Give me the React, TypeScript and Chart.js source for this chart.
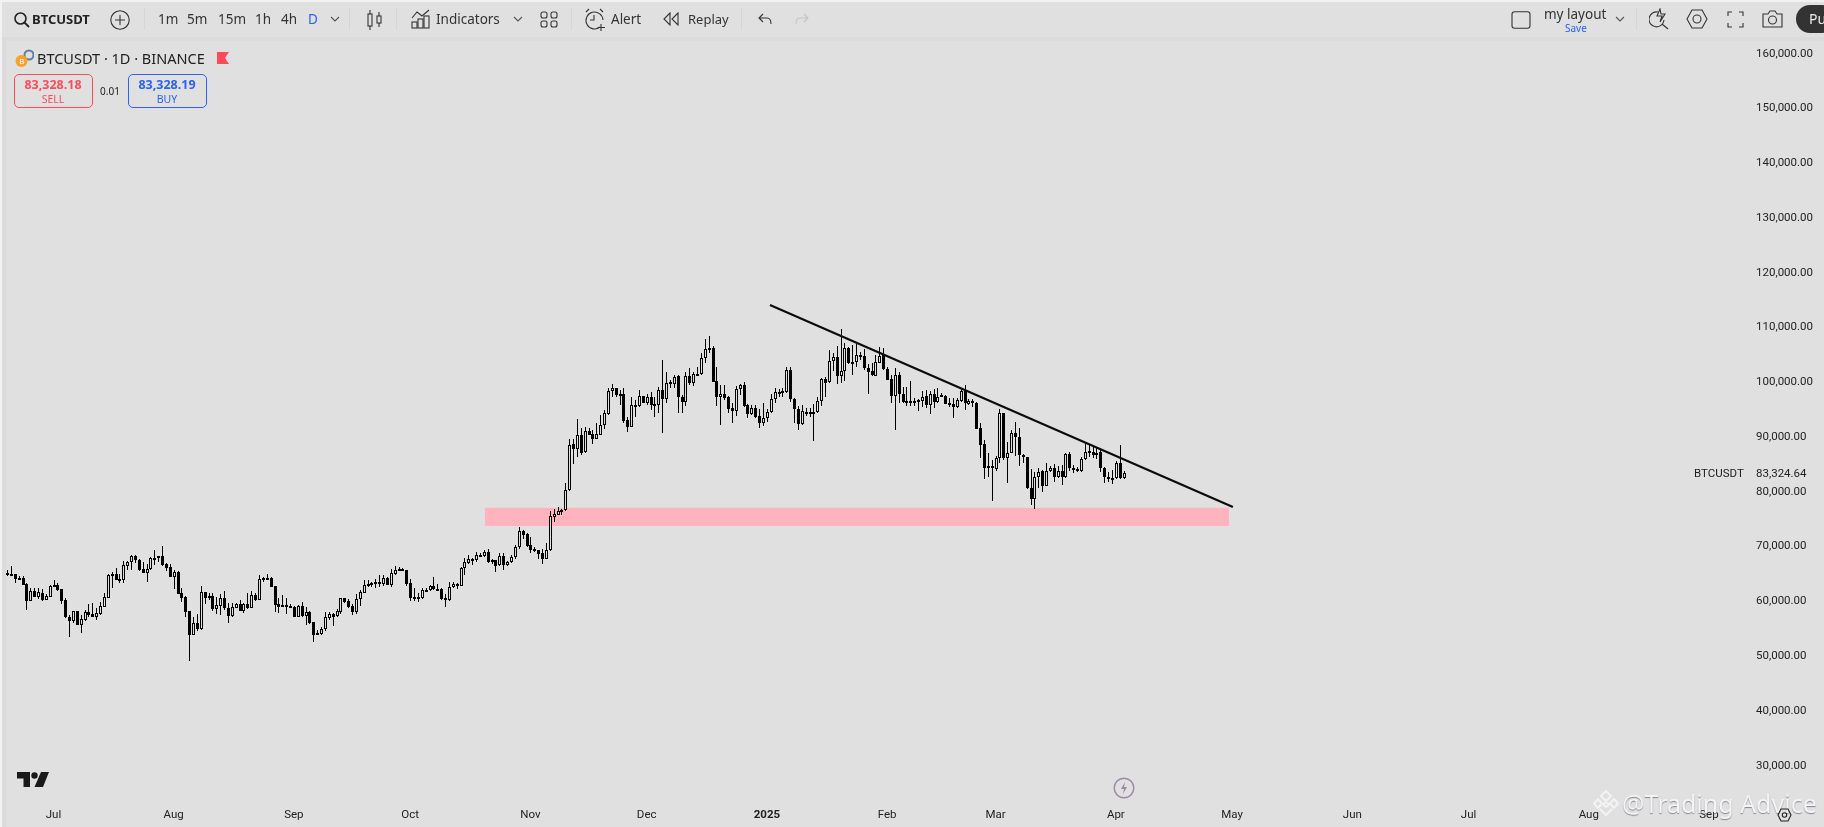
import React, { useEffect, useRef } from "react";
import { Chart, registerables } from "chart.js";

Chart.register(...registerables);

const firstCandleDay = -12; // days relative to 1 Jul 2024

const opens = [
  64990, 64810, 64810, 64140, 64020, 62980, 59940, 61645, 60670, 61340,
  60120, 60670, 62560, 62800, 62070, 60060, 56900, 56290, 57990, 55560,
  56410, 57810, 57445, 57020, 57565, 58845, 60490, 64810, 64810, 63775,
  63715, 66270, 66940, 68100, 67365, 65720, 65050, 65660, 67610, 67670,
  68035, 66635, 66090, 64320, 65175, 61340, 60670, 57990, 53730, 55800,
  54765, 61460, 60730, 60790, 58480, 59030, 60365, 58540, 57200, 58660,
  59270, 58115, 59330, 58660, 60975, 60120, 63960, 64140, 64080, 62560,
  59270, 59090, 59090, 58965, 58785, 57020, 58965, 57200, 57870, 55985,
  53975, 53850, 54705, 56835, 57445, 57080, 57930, 60365, 59820, 58965,
  57930, 60185, 61400, 62980, 63045, 63105, 63105, 62980, 64020, 62860,
  64810, 65600, 65720, 65480, 63105, 60430, 60430, 60430, 61830, 61830,
  62620, 62070, 62070, 60365, 60120, 62375, 62740, 62620, 65845, 66880,
  67245, 67305, 68160, 68160, 68830, 67425, 67305, 66390, 68035, 66515,
  66940, 67855, 69680, 72600, 72050, 70045, 69315, 69130, 68585, 67610,
  69130, 75220, 75645, 76315, 76435,
  80085, 88485, 87695, 90130, 87085, 90860, 90310, 89520, 90250, 92075,
  94085, 98165, 98710, 97675, 97675, 92930, 91710, 95610, 95425, 97250,
  96095, 97070, 95850, 95610, 98405, 96700, 99625, 99565, 100965, 97070,
  96275, 100965, 99745, 101270, 101270, 104190, 105835, 106075, 99990, 97190,
  97615, 97130, 95120, 94635, 98530, 99320, 95610, 94085, 95060, 93600,
  92320, 93355, 94330, 96700, 97920, 98040, 98040, 102060, 96700, 94880,
  92200, 94270, 94270, 94270, 94330, 96340, 100355, 99805, 103765, 104375,
  101025, 101940, 106015, 103460, 103580, 104615, 104615, 102365, 101880, 101025,
  103400, 104740, 102180, 100355, 97375, 101145, 97675, 96215, 96215, 96215,
  96460, 96340, 97250, 95610, 97615, 96280, 97375, 97375, 95975, 95850,
  95365, 96460, 98410, 95850, 96340, 95975, 91410, 88545, 84105, 84530,
  83985, 85930, 94145, 85930, 86965, 90495, 89765, 86600, 86115, 80450,
  78440, 82580, 83680, 80875, 83680, 84105, 82460, 83680, 82460, 86720,
  84105, 83920, 83555, 85870, 87145, 87145, 86600, 87085, 84225, 82460,
  82340, 82275, 85015, 82275,
];

const highs = [
  65540, 66270, 64810, 64445, 64380, 63105, 62190, 62190, 62190, 62010,
  61095, 62800, 63715, 63105, 62070, 60365, 57320, 58115, 58115, 57320,
  58235, 59330, 59455, 58540, 59760, 61280, 64810, 65175, 65845, 64810,
  67185, 67245, 68280, 68280, 67490, 67060, 66635, 67975, 69190, 68100,
  69920, 66760, 66635, 65540, 65420, 62190, 60855, 58115, 56900, 57445,
  62620, 61460, 61280, 61400, 60550, 61095, 61705, 59575, 59575, 59455,
  60060, 59455, 61280, 61765, 61400, 64690, 64320, 64810, 64200, 62680,
  60365, 60975, 60365, 59330, 58965, 59150, 59695, 58845, 58115, 56105,
  54585, 55070, 57870, 57870, 57750, 58420, 60365, 60490, 60185, 59330,
  61160, 61890, 63715, 63715, 63290, 63835, 64630, 64630, 64320, 65660,
  66270, 66025, 65845, 65540, 63835, 62190, 61280, 62190, 62190, 62740,
  64200, 62980, 62190, 61160, 63350, 63290, 63105, 66150, 67670, 68280,
  67670, 68890, 68705, 69190, 69315, 67550, 67365, 68585, 68585, 67245,
  68340, 70105, 73450, 72845, 72235, 71625, 69680, 69190, 69315, 70410,
  76375, 76620, 76985, 76680, 81370,
  89400, 89400, 93110, 91410, 91590, 91470, 91100, 92320, 93840, 94755,
  98710, 99440, 98710, 98405, 98710, 93540, 97070, 96580, 98405, 97310,
  97675, 98100, 97070, 99015, 103885, 101755, 100235, 101145, 101145, 97495,
  101755, 102365, 101755, 102670, 105105, 107720, 108270, 106440, 102545, 99320,
  99320, 97310, 95975, 99140, 99505, 99930, 95850, 95670, 95670, 94880,
  95975, 94880, 97675, 98710, 98530, 98710, 102545, 102545, 96885, 95485,
  95610, 95060, 95060, 95850, 97190, 100540, 100720, 105710, 105105, 106440,
  109485, 106930, 106200, 106625, 106810, 105405, 105835, 103155, 103280, 104800,
  106200, 106015, 102545, 101145, 102365, 101755, 98895, 98895, 100050, 96885,
  96705, 98285, 98410, 98285, 98530, 98715, 97920, 97495, 96885, 96885,
  96885, 98715, 99320, 96765, 96705, 96280, 92445, 89280, 86845, 85625,
  86355, 94880, 94270, 88975, 91105, 92625, 91410, 86720, 86235, 83920,
  83495, 84105, 83800, 85140, 84530, 84895, 84530, 84710, 86845, 87145,
  84710, 84410, 86115, 88790, 88365, 88180, 87940, 87450, 84410, 83495,
  83800, 85380, 88365, 83680,
];

const lows = [
  64445, 64445, 63230, 63715, 62800, 58235, 59880, 60610, 60305, 59940,
  60060, 60610, 62375, 61765, 59330, 56715, 53365, 55925, 55500, 53975,
  56290, 57020, 56960, 56410, 57320, 58720, 60430, 62250, 63715, 63230,
  63230, 65540, 65540, 66760, 65355, 64930, 63410, 65540, 66455, 66940,
  66330, 65420, 64200, 62130, 61100, 59760, 57020, 48985, 53670, 54460,
  54585, 59330, 60060, 58115, 57505, 57320, 58235, 55925, 57020, 58540,
  58050, 57750, 58480, 58600, 59940, 60060, 63350, 63715, 62375, 57870,
  57750, 58720, 57505, 58540, 56960, 56900, 57020, 55495, 55680, 52455,
  53670, 53670, 54460, 56410, 55315, 57020, 57505, 59455, 58540, 57385,
  57505, 58965, 61280, 62375, 62375, 62315, 62375, 62620, 62740, 62500,
  64630, 65295, 65355, 62620, 59880, 59880, 59695, 60305, 61585, 61645,
  61890, 61765, 60060, 58845, 59940, 62190, 62010, 62620, 64630, 66640,
  66455, 67060, 67975, 67975, 66760, 66575, 65235, 66270, 65540, 66270,
  66755, 67610, 69435, 71260, 69680, 68705, 68825, 67490, 66635, 67490,
  69070, 74305, 75520, 75645, 76375,
  80025, 84895, 86110, 86540, 86965, 90130, 88545, 89400, 90190, 91225,
  93905, 97070, 97070, 95610, 92440, 90800, 91650, 93540, 95365, 95975,
  95670, 94755, 93540, 94145, 90495, 95975, 98710, 98710, 94145, 94145,
  95485, 99320, 99140, 101145, 101145, 103275, 105225, 99870, 95485, 92015,
  96580, 94270, 92440, 93660, 97495, 95240, 93355, 93840, 93235, 91530,
  91835, 92625, 94270, 95975, 97190, 97190, 97920, 96275, 92440, 91100,
  92015, 93660, 93540, 89155, 94145, 95485, 97070, 99745, 101940, 99505,
  99625, 100110, 103155, 101145, 102670, 103885, 102060, 97675, 100965, 100965,
  103280, 102060, 100175, 96095, 91105, 95975, 96095, 95485, 95485, 95485,
  94635, 95245, 95060, 94025, 95060, 95975, 97070, 95850, 95245, 93295,
  95060, 96280, 94755, 95610, 95245, 91285, 85930, 82155, 82460, 78200,
  83680, 85015, 85625, 81485, 86845, 86355, 84590, 85015, 80270, 77410,
  76615, 80450, 79845, 80815, 83495, 81670, 82275, 81060, 82275, 83680,
  83310, 83495, 83495, 85625, 86235, 85930, 85745, 83495, 81485, 81670,
  81180, 82155, 82215, 82095,
];

const closes = [
  64630, 64570, 63960, 63960, 62860, 59940, 61705, 60670, 61460, 60060,
  60730, 62620, 62740, 61890, 59940, 56900, 56290, 57990, 55560, 56530,
  57870, 57385, 57020, 57630, 58905, 60550, 64570, 64570, 63775, 63895,
  66390, 66940, 68100, 67365, 65540, 65050, 65720, 67670, 67730, 68035,
  66515, 65965, 64320, 65175, 61160, 60490, 57930, 53730, 55800, 54765,
  61460, 60430, 60610, 58420, 59090, 60365, 58540, 57200, 58720, 59330,
  58115, 59330, 58660, 60915, 60120, 63835, 64140, 63960, 62500, 59210,
  58845, 58845, 58905, 58845, 57020, 58965, 57200, 57870, 55925, 53730,
  53730, 54705, 56900, 57445, 57020, 57990, 60365, 59760, 58845, 57930,
  60185, 61520, 62740, 62740, 63230, 63350, 63350, 64020, 62860, 64930,
  65540, 65720, 65480, 62980, 60490, 60550, 60550, 61890, 61950, 62620,
  62010, 61890, 60245, 60120, 62375, 62920, 62920, 65905, 66940, 67490,
  67490, 68280, 68340, 68830, 67000, 67305, 66330, 68035, 66455, 66940,
  67855, 69680, 72600, 71990, 69985, 69190, 69190, 68460, 67550, 69130,
  75340, 75705, 76250, 76435, 80090,
  88425, 87695, 90130, 86965, 90860, 90250, 89520, 90310, 92075, 94145,
  98165, 98710, 97435, 97375, 92810, 91710, 95610, 95365, 97250, 96095,
  97070, 95610, 95485, 98405, 96700, 99625, 99805, 100840, 97070, 96275,
  100965, 99745, 101330, 101390, 104190, 105835, 106015, 99930, 97190, 97615,
  97005, 95000, 94635, 98530, 99260, 95485, 94085, 95060, 93540, 92440,
  93355, 94330, 96700, 97980, 98040, 98165, 102060, 96700, 94880, 92200,
  94510, 94390, 94390, 94390, 96340, 100355, 99745, 103765, 104375, 101025,
  101940, 106015, 103400, 103580, 104740, 104800, 102365, 101755, 101085, 103520,
  104615, 102180, 100235, 97375, 101145, 97615, 96215, 96340, 96340, 96340,
  96582, 97190, 95610, 97615, 96280, 97190, 97495, 95915, 95610, 95365,
  96520, 98225, 95975, 96400, 96035, 91345, 88365, 84105, 84470, 84105,
  86050, 94145, 85930, 86965, 90495, 89765, 86540, 86115, 80450, 78440,
  82580, 83495, 80875, 83680, 84105, 82460, 83680, 82460, 86720, 84105,
  83920, 83555, 85870, 87145, 87330, 86600, 86965, 84225, 82460, 82275,
  82215, 85015, 82275, 83325,
];

const priceTicks = [30000, 40000, 50000, 60000, 70000, 80000, 90000, 100000, 110000, 120000, 130000, 140000, 150000, 160000];
const lastPrice = 83324.64;

const monthDays = [0, 31, 62, 92, 123, 153, 184, 215, 243, 274, 304, 335, 365, 396, 427];
const monthLabels = ["Jul", "Aug", "Sep", "Oct", "Nov", "Dec", "2025", "Feb", "Mar", "Apr", "May", "Jun", "Jul", "Aug", "Sep"];

const trendDays = [184.8, 304.2];
const trendPrices = [113935, 77054];
const zoneDays = [111.3, 303.2];
const zoneTop = 76925;
const zoneBottom = 73566;

const BG = "#e0e0e0";
const INK = "#000000";
const UI = "'Noto Sans', sans-serif";
const AXIS_FONT = "Roboto";

const snapPlugin = {
  id: "snapCandles",
  afterDatasetsUpdate(chart: any) {
    chart.data.datasets.forEach((ds: any, i: number) => {
      if (ds.type !== "bar") return;
      const isBody = ds.label === "body";
      chart.getDatasetMeta(i).data.forEach((el: any) => {
        const x = Math.round(el.x) + 0.5;
        let top = Math.round(Math.min(el.y, el.base));
        let bottom = Math.round(Math.max(el.y, el.base));
        if (isBody && bottom - top < 2) bottom = top + 2;
        el.x = x;
        el.y = top;
        el.base = bottom;
        el.height = bottom - top;
      });
    });
  },
};

function Ico({ x, y, w, h, children, stroke = "#333" }: any) {
  return (
    <svg
      width={w}
      height={h}
      viewBox={`0 0 ${w} ${h}`}
      style={{ position: "absolute", left: x, top: y }}
      fill="none"
      stroke={stroke}
      strokeWidth={1.1}
    >
      {children}
    </svg>
  );
}

function Txt({ x, cy, size = 14, color = "#333", bold = false, children, center = false, spacing }: any) {
  return (
    <div
      style={{
        position: "absolute",
        left: x,
        top: cy - 12,
        height: 24,
        lineHeight: "24px",
        fontSize: size,
        color,
        fontWeight: bold ? 700 : 400,
        fontFamily: UI,
        whiteSpace: "nowrap",
        transform: center ? "translateX(-50%)" : undefined,
        letterSpacing: spacing,
      }}
    >
      {children}
    </div>
  );
}

function Sep({ x }: { x: number }) {
  return <div style={{ position: "absolute", left: x, top: 8, width: 1, height: 22, background: "#d6d6d6" }} />;
}

function Chevron({ x }: { x: number }) {
  return (
    <Ico x={x - 5} y={15} w={10} h={8} stroke="#555">
      <path d="M1 2 L5 6 L9 2" />
    </Ico>
  );
}

export default function App() {
  const ref = useRef<HTMLCanvasElement | null>(null);

  useEffect(() => {
    document.body.style.margin = "0";
    const days = opens.map((_, i) => firstCandleDay + i);
    const chart = new Chart(ref.current as HTMLCanvasElement, {
      type: "bar",
      plugins: [snapPlugin],
      data: {
        datasets: [
          {
            type: "line",
            label: "trend",
            data: trendDays.map((d, i) => ({ x: d, y: trendPrices[i] })),
            borderColor: "#0c0c0c",
            borderWidth: 2.2,
            pointRadius: 0,
            order: 0,
          },
          {
            type: "bar",
            label: "body",
            data: days.map((d, i) => ({ x: d, y: [opens[i], closes[i]] })),
            backgroundColor: closes.map((c, i) => (c >= opens[i] ? BG : INK)),
            borderColor: INK,
            borderWidth: 1,
            borderSkipped: false,
            inflateAmount: 0,
            barThickness: 3,
            grouped: false,
            order: 1,
          },
          {
            type: "bar",
            label: "wick",
            data: days.map((d, i) => ({ x: d, y: [lows[i], highs[i]] })),
            backgroundColor: INK,
            borderWidth: 0,
            inflateAmount: 0,
            barThickness: 1,
            grouped: false,
            order: 2,
          },
          {
            type: "line",
            label: "zoneTop",
            data: zoneDays.map((d) => ({ x: d, y: zoneTop })),
            borderWidth: 0,
            pointRadius: 0,
            backgroundColor: "#ffb3bc",
            fill: "+1",
            order: 3,
          },
          {
            type: "line",
            label: "zoneBottom",
            data: zoneDays.map((d) => ({ x: d, y: zoneBottom })),
            borderWidth: 0,
            pointRadius: 0,
            fill: false,
            order: 4,
          },
        ] as any,
      },
      options: {
        animation: false,
        responsive: false,
        devicePixelRatio: 1,
        layout: { padding: { left: 3, top: 40, right: 0, bottom: 0 } },
        plugins: { legend: { display: false }, tooltip: { enabled: false }, title: { display: false } },
        scales: {
          x: {
            type: "linear",
            offset: false,
            min: -13.03,
            max: 437.58,
            grid: { display: false, offset: false, drawTicks: false },
            border: { display: false },
            afterBuildTicks: (s: any) => {
              s.ticks = monthDays.map((v) => ({ value: v }));
            },
            afterFit: (s: any) => {
              s.height = 24;
            },
            ticks: {
              autoSkip: false,
              maxRotation: 0,
              padding: 5,
              color: "#222",
              font: (ctx: any) => ({
                family: AXIS_FONT,
                size: 11.5,
                weight: monthLabels[ctx.index] === "2025" ? "bold" : "normal",
              }),
              callback: (_v: any, i: number) => monthLabels[i],
            },
          } as any,
          y: {
            type: "linear",
            position: "right",
            min: 23006,
            max: 162319,
            beginAtZero: false,
            grid: { display: false, drawTicks: false },
            border: { display: false },
            afterBuildTicks: (s: any) => {
              s.ticks = [...priceTicks, lastPrice].map((v) => ({ value: v }));
            },
            afterFit: (s: any) => {
              s.width = 74;
            },
            ticks: {
              autoSkip: false,
              padding: 6,
              labelOffset: 1,
              color: "#222",
              font: { family: AXIS_FONT, size: 11.5 },
              callback: (v: any) =>
                Number(v).toLocaleString("en-US", { minimumFractionDigits: 2, maximumFractionDigits: 2 }),
            },
          } as any,
        },
      },
    } as any);
    return () => chart.destroy();
  }, []);

  return (
    <div style={{ position: "fixed", left: 0, top: 0, width: 1824, height: 827, overflow: "hidden", background: BG }}>
      <div style={{ position: "absolute", left: 0, top: 0, width: 1824, height: 2, background: "#f2f2f2" }} />
      <div style={{ position: "absolute", left: 2, top: 37, width: 1822, height: 4, background: "#dbdbdb" }} />
      <div style={{ position: "absolute", left: 0, top: 0, width: 2, height: 827, background: "#f2f2f2" }} />
      <div style={{ position: "absolute", left: 2, top: 37, width: 4, height: 790, background: "#dbdbdb" }} />
      <canvas ref={ref} width={1824} height={827} style={{ position: "absolute", left: 0, top: 0, display: "block" }} />

      {/* toolbar */}
      <Ico x={13} y={11} w={17} h={17} stroke="#222">
        <circle cx="7.5" cy="7.5" r="5.5" strokeWidth="1.6" />
        <path d="M11.5 11.5 L16 16" strokeWidth="1.8" />
      </Ico>
      <Txt x={32} cy={19} size={13} bold color="#222">BTCUSDT</Txt>
      <Ico x={110} y={10} w={20} h={20}>
        <circle cx="10" cy="10" r="9.2" />
        <path d="M10 5 V15 M5 10 H15" />
      </Ico>
      <Sep x={144} />
      <Txt x={158} cy={19} size={13.5}>1m</Txt>
      <Txt x={187} cy={19} size={13.5}>5m</Txt>
      <Txt x={218} cy={19} size={13.5}>15m</Txt>
      <Txt x={255} cy={19} size={13.5}>1h</Txt>
      <Txt x={281} cy={19} size={13.5}>4h</Txt>
      <Txt x={308} cy={19} size={13.5} color="#2962ff">D</Txt>
      <Chevron x={335} />
      <Sep x={349} />
      <Ico x={365} y={9} w={18} h={22}>
        <path d="M5 1 V5 M5 17 V21 M14 3 V7 M14 14 V18" />
        <rect x="3" y="5" width="4" height="12" />
        <rect x="12" y="7" width="4" height="7" />
      </Ico>
      <Sep x={396} />
      <Ico x={411} y={9} w={20} h={20}>
        <path d="M1 9 L6 3 L11 7 L18 1" />
        <rect x="1" y="13" width="5" height="6" />
        <rect x="7" y="10" width="5" height="9" />
        <rect x="13" y="7" width="5" height="12" />
      </Ico>
      <Txt x={436} cy={19} size={13.5}>Indicators</Txt>
      <Chevron x={518} />
      <Ico x={540} y={11} w={18} h={17}>
        <rect x="1" y="1" width="6" height="6" rx="2" />
        <rect x="11" y="1" width="6" height="6" rx="2" />
        <rect x="1" y="10" width="6" height="6" rx="2" />
        <rect x="11" y="10" width="6" height="6" rx="2" />
      </Ico>
      <Sep x={571} />
      <Ico x={584} y={8} w={23} h={24}>
        <path d="M16 19 A8.5 8.5 0 1 1 19 12" />
        <path d="M10 7 V12 H6" />
        <path d="M2 4 L5 1 M19 4 L16 1" />
        <path d="M17 16 V23 M13.5 19.5 H21" />
      </Ico>
      <Txt x={611} cy={19} size={13.5}>Alert</Txt>
      <Ico x={663} y={12} w={16} h={14}>
        <path d="M7 1 L1 7 L7 13 Z M15 1 L9 7 L15 13 Z" />
      </Ico>
      <Txt x={688} cy={19} size={13}>Replay</Txt>
      <Sep x={741} />
      <Ico x={758} y={13} w={14} h={12}>
        <path d="M5 1 L1 5 L5 9 M1 5 H9 Q13 5 13 11" />
      </Ico>
      <Ico x={795} y={13} w={14} h={12} stroke="#c4c4c4">
        <path d="M9 1 L13 5 L9 9 M13 5 H5 Q1 5 1 11" />
      </Ico>

      {/* toolbar right */}
      <Ico x={1511} y={11} w={20} h={18}>
        <rect x="1" y="0.8" width="18" height="16.4" rx="2.5" />
      </Ico>
      <Txt x={1544} cy={14} size={13.5}>my layout</Txt>
      <Txt x={1565} cy={28} size={10} color="#2962ff">Save</Txt>
      <Chevron x={1620} />
      <Sep x={1636} />
      <Ico x={1649} y={8} w={20} h={22}>
        <path d="M9 4 A7.5 7.5 0 1 0 15 12" />
        <path d="M11 1 L8 8 H13 L11 14 L16 6 H12 Z" />
        <path d="M13 16 L19 21" />
      </Ico>
      <Ico x={1686} y={9} w={22} h={20}>
        <path d="M6 1 H16 L21 10 L16 19 H6 L1 10 Z" />
        <circle cx="11" cy="10" r="4" />
      </Ico>
      <Ico x={1727} y={11} w={17} h={17}>
        <path d="M1 5 V1 H5 M12 1 H16 V5 M16 12 V16 H12 M5 16 H1 V12" />
      </Ico>
      <Ico x={1762} y={10} w={21} h={18}>
        <path d="M1 4 H6 L8 1 H13 L15 4 H20 V17 H1 Z" />
        <circle cx="10.5" cy="10" r="4" />
      </Ico>
      <div
        style={{
          position: "absolute",
          left: 1796,
          top: 5,
          width: 40,
          height: 28,
          borderRadius: 14,
          background: "#333",
          color: "#eee",
          fontFamily: UI,
          fontSize: 14,
          lineHeight: "28px",
          paddingLeft: 13,
          boxSizing: "border-box",
        }}
      >
        Pu
      </div>

      {/* legend */}
      <Ico x={14} y={48} w={20} h={20} stroke="none">
        <circle cx="15" cy="7" r="4.5" fill="none" stroke="#5a7fa8" strokeWidth="2" />
        <circle cx="7.5" cy="13" r="6" fill="#f7a130" />
        <text x="5.2" y="16" fontSize="8" fill="#fff" fontFamily="Roboto">B</text>
      </Ico>
      <Txt x={37} cy={58} size={14.5} color="#222">BTCUSDT · 1D · BINANCE</Txt>
      <Ico x={217} y={52} w={13} h={12} stroke="none">
        <path d="M0 0 H12 L8 6 L12 12 H0 Z" fill="#ff4a5a" />
      </Ico>
      <div style={{ position: "absolute", left: 14, top: 74, width: 79, height: 34, boxSizing: "border-box", border: "1px solid #ff4a5a", borderRadius: 5 }} />
      <Txt x={53} cy={85} size={12.5} bold color="#ff4a5a" center>83,328.18</Txt>
      <Txt x={53} cy={99} size={10.5} color="#ff4a5a" center>SELL</Txt>
      <Txt x={110} cy={91} size={10} color="#222" center>0.01</Txt>
      <div style={{ position: "absolute", left: 128, top: 74, width: 79, height: 34, boxSizing: "border-box", border: "1px solid #2962ff", borderRadius: 5 }} />
      <Txt x={167} cy={85} size={12.5} bold color="#2962ff" center>83,328.19</Txt>
      <Txt x={167} cy={99} size={10.5} color="#2962ff" center>BUY</Txt>

      {/* price label name */}
      <div style={{ position: "absolute", left: 1694, top: 466, fontFamily: AXIS_FONT, fontSize: 11.5, lineHeight: "15px", color: "#222" }}>BTCUSDT</div>

      {/* TradingView mark */}
      <Ico x={17} y={772} w={32} h={15} stroke="none">
        <path d="M0 0 H13 V15 H6.5 V6.5 H0 Z" fill="#1a1a1a" />
        <circle cx="17.5" cy="3.5" r="3.2" fill="#1a1a1a" />
        <path d="M24 0 H32 L26 15 H17.5 Z" fill="#1a1a1a" />
      </Ico>

      {/* lightning */}
      <Ico x={1113} y={777} w={22} h={22} stroke="#9d86a8">
        <circle cx="11" cy="11" r="9.8" strokeWidth="1.4" />
        <path d="M12 5 L8 12 H11 L10 17 L14 10 H11 Z" fill="#9d86a8" stroke="none" />
      </Ico>

      {/* watermark */}
      <Ico x={1591} y={789} w={30} h={30} stroke="#f3f3f3">
        <path d="M15 2 L20 7 L15 12 L10 7 Z M7 10 L11 14.5 L7 19 L3 14.5 Z M23 10 L27 14.5 L23 19 L19 14.5 Z M15 13 L18 15.5 L15 18 L12 15.5 Z M9 20 L15 26 L21 20" strokeWidth="2" />
      </Ico>
      <div
        style={{
          position: "absolute",
          left: 1622,
          top: 786,
          fontFamily: UI,
          fontSize: 25,
          lineHeight: "34px",
          color: "#f4f4f4",
          textShadow: "0 1px 1px #8a8393",
          whiteSpace: "nowrap",
        }}
      >
        @Trading Advice
      </div>
      <Ico x={1777} y={808} w={15} h={14} stroke="#222">
        <path d="M4 1 H11 L14 7 L11 13 H4 L1 7 Z" />
        <circle cx="7.5" cy="7" r="2.2" />
      </Ico>
    </div>
  );
}
